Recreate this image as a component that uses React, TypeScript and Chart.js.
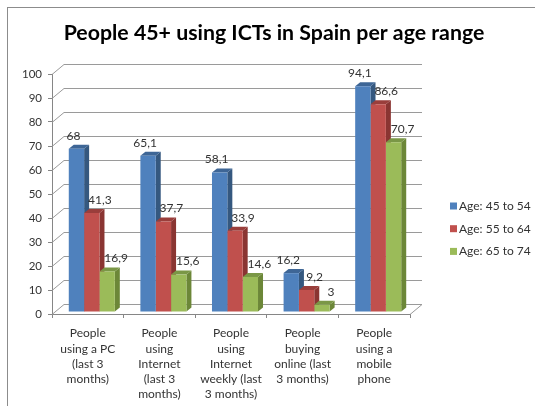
import React, { useEffect, useRef } from "react";
import { Chart, registerables } from "chart.js";

Chart.register(...registerables);

// ---------- data ----------
const TITLE = "People 45+ using ICTs in Spain per age range";
const CATEGORIES: string[][] = [
  ["People", "using a PC", "(last 3", "months)"],
  ["People", "using", "Internet", "(last 3", "months)"],
  ["People", "using", "Internet", "weekly (last", "3 months)"],
  ["People", "buying", "online (last", "3 months)"],
  ["People", "using a", "mobile", "phone"],
];
const SERIES_NAMES = ["Age: 45 to 54", "Age: 55 to 64", "Age: 65 to 74"];
const AGE_45_54 = [68, 65.1, 58.1, 16.2, 94.1];
const AGE_55_64 = [41.3, 37.7, 33.9, 9.2, 86.6];
const AGE_65_74 = [16.9, 15.6, 14.6, 3, 70.7];
const Y_MIN = 0;
const Y_MAX = 100;
const Y_STEP = 10;

// ---------- style ----------
const FONT = "Lato, 'Open Sans', sans-serif";
const FRONT = ["#4F81BD", "#C0504D", "#9BBB59"];
const SIDE = ["#35587F", "#8A3532", "#6C8738"];
const TOPC = ["#3E6696", "#9A3E3B", "#7A9746"];
const LABEL_SHIFT = [-3, 8, 9];
const WALL_DX = 12, WALL_DY = 10;
const BAR_TX = 4, BAR_TY = -2, BAR_DX = 5, BAR_DY = 4;
const GRID_COLOR = "#9a9a9a";
const AXIS_COLOR = "#868686";
const TEXT_COLOR = "#333333";

const fmt = (v: number) => String(v).replace(".", ",");

const excel3d = {
  id: "excel3d",
  beforeDraw(chart: any) {
    const ctx = chart.ctx;
    ctx.save();
    ctx.fillStyle = "#ffffff";
    ctx.fillRect(0, 0, chart.width, chart.height);
    ctx.strokeStyle = "#8c8c8c";
    ctx.lineWidth = 1;
    ctx.strokeRect(7.5, 7.5, 700, 700);
    // title
    ctx.fillStyle = "#000000";
    ctx.font = `bold 21.3px ${FONT}`;
    ctx.textAlign = "center";
    ctx.textBaseline = "middle";
    ctx.fillText(TITLE, 274, 33);
    // legend
    ctx.font = `12px ${FONT}`;
    ctx.textAlign = "left";
    SERIES_NAMES.forEach((name, i) => {
      const cy = 206 + i * 22.7;
      ctx.fillStyle = FRONT[i];
      ctx.fillRect(450, cy - 3.5, 7, 7);
      ctx.fillStyle = TEXT_COLOR;
      ctx.fillText(name, 459, cy);
    });
    ctx.restore();
  },
  beforeDatasetsDraw(chart: any) {
    const { ctx, chartArea } = chart;
    const { left, right } = chartArea;
    const y = chart.scales.y;
    ctx.save();
    ctx.strokeStyle = GRID_COLOR;
    ctx.lineWidth = 1;
    for (let v = Y_MIN; v <= Y_MAX; v += Y_STEP) {
      const py = Math.round(y.getPixelForValue(v)) + 0.5;
      ctx.beginPath();
      ctx.moveTo(left, py);
      ctx.lineTo(left + WALL_DX, py - WALL_DY);
      ctx.lineTo(right + WALL_DX, py - WALL_DY);
      ctx.stroke();
    }
    const p0 = Math.round(y.getPixelForValue(Y_MIN)) + 0.5;
    ctx.beginPath();
    ctx.moveTo(right, p0);
    ctx.lineTo(right + WALL_DX, p0 - WALL_DY);
    ctx.stroke();

    // 3D side and top faces
    chart.data.datasets.forEach((_ds: any, di: number) => {
      const meta = chart.getDatasetMeta(di);
      meta.data.forEach((bar: any) => {
        const { x, y: top, base, width } = bar.getProps(["x", "y", "base", "width"], true);
        const l = x - width / 2 + BAR_TX;
        const r = x + width / 2 + BAR_TX;
        const t = top + BAR_TY;
        const b = base + BAR_TY;
        ctx.fillStyle = SIDE[di];
        ctx.beginPath();
        ctx.moveTo(r, t);
        ctx.lineTo(r + BAR_DX, t - BAR_DY);
        ctx.lineTo(r + BAR_DX, b - BAR_DY);
        ctx.lineTo(r, b);
        ctx.closePath();
        ctx.fill();
        ctx.fillStyle = TOPC[di];
        ctx.beginPath();
        ctx.moveTo(l, t);
        ctx.lineTo(l + BAR_DX, t - BAR_DY);
        ctx.lineTo(r + BAR_DX, t - BAR_DY);
        ctx.lineTo(r, t);
        ctx.closePath();
        ctx.fill();
      });
    });
    ctx.restore();
    ctx.save();
    ctx.translate(BAR_TX, BAR_TY);
  },
  afterDatasetsDraw(chart: any) {
    const ctx = chart.ctx;
    ctx.restore();
    ctx.save();
    ctx.font = `12px ${FONT}`;
    ctx.fillStyle = TEXT_COLOR;
    ctx.textAlign = "center";
    ctx.textBaseline = "middle";
    chart.data.datasets.forEach((ds: any, di: number) => {
      const meta = chart.getDatasetMeta(di);
      meta.data.forEach((bar: any, i: number) => {
        const { x, y: top } = bar.getProps(["x", "y"], true);
        ctx.fillText(fmt(ds.data[i]), x + BAR_TX + LABEL_SHIFT[di], top + BAR_TY - 13);
      });
    });
    ctx.restore();
  },
};

export default function App() {
  const ref = useRef<HTMLCanvasElement>(null);
  useEffect(() => {
    if (!ref.current) return;
    const series = [AGE_45_54, AGE_55_64, AGE_65_74];
    const chart = new Chart(ref.current, {
      type: "bar",
      data: {
        labels: CATEGORIES,
        datasets: series.map((d, i) => ({
          label: SERIES_NAMES[i],
          data: d,
          backgroundColor: FRONT[i],
          borderWidth: 0,
          categoryPercentage: 0.643,
          barPercentage: 1,
        })),
      },
      options: {
        responsive: false,
        animation: false,
        devicePixelRatio: 1,
        layout: { padding: { left: 0, right: 125, top: 74, bottom: 0 } },
        plugins: { legend: { display: false }, title: { display: false }, tooltip: { enabled: false } },
        scales: {
          x: {
            offset: true,
            grid: { drawOnChartArea: false, drawTicks: true, tickLength: 4, color: AXIS_COLOR, offset: true },
            border: { display: true, color: AXIS_COLOR },
            ticks: {
              color: TEXT_COLOR,
              font: { family: FONT, size: 12, lineHeight: 1.27 },
              maxRotation: 0,
              minRotation: 0,
              autoSkip: false,
              padding: 8,
            },
            afterFit: (s: any) => { s.height = 92; },
          },
          y: {
            min: Y_MIN,
            max: Y_MAX,
            grid: { drawOnChartArea: false, drawTicks: true, tickLength: 4, color: AXIS_COLOR },
            border: { display: true, color: AXIS_COLOR },
            ticks: {
              stepSize: Y_STEP,
              color: TEXT_COLOR,
              font: { family: FONT, size: 11.5 },
              padding: 6,
            },
            afterFit: (s: any) => { s.width = 52; },
          },
        },
      },
      plugins: [excel3d],
    } as any);
    return () => chart.destroy();
  }, []);
  return (
    <div style={{ position: "fixed", left: 0, top: 0, width: 535, height: 406, background: "#fff" }}>
      <canvas ref={ref} width={535} height={406} style={{ display: "block" }} />
    </div>
  );
}
